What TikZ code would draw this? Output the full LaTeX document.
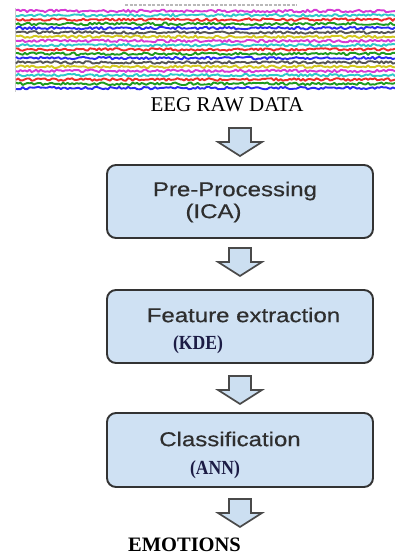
\documentclass[tikz,border=0pt]{standalone}
\usepackage{fontspec}
\setmainfont{Liberation Serif}
\newfontfamily\boxsans[FakeStretch=1.2,FakeBold=0.5]{Liberation Sans}
\newfontfamily\boxserif[FakeStretch=0.88]{Liberation Serif}
\usetikzlibrary{calc}
\definecolor{boxfill}{HTML}{CFE1F3}
\definecolor{boxline}{HTML}{333333}
\definecolor{arrfill}{HTML}{CCDFF1}
\definecolor{arrline}{HTML}{4A4A4A}
\definecolor{txtgray}{HTML}{2E2E2E}
\definecolor{navy}{HTML}{1C1C45}
\definecolor{tr0}{HTML}{D63BD6}
\definecolor{tr1}{HTML}{2FC8C8}
\definecolor{tr2}{HTML}{F02A2A}
\definecolor{tr3}{HTML}{1E9A1E}
\definecolor{tr4}{HTML}{2A2AF0}
\definecolor{tr5}{HTML}{555555}
\definecolor{tr6}{HTML}{D2C81E}
\tikzset{
  stage/.style={draw=boxline, line width=1.9pt, fill=boxfill, rounded corners=9pt,
    minimum width=266pt, inner sep=0pt},
  sanslabel/.style={text=txtgray, font=\boxsans\fontsize{20}{24}\selectfont, inner sep=0pt},
  seriflabel/.style={text=navy, font=\boxserif\bfseries\fontsize{20}{24}\selectfont, inner sep=0pt},
  arrowbox/.style={draw=arrline, line width=1.7pt, fill=arrfill, line join=miter},
  blockarrow/.pic={\draw[arrowbox] (-11,0) -- (11,0) -- (11,14) -- (22,14) -- (0,28)
     -- (-22,14) -- (-11,14) -- cycle;}
}
\begin{document}
\begin{tikzpicture}[x=1pt,y=-1pt]
\useasboundingbox (0,0) rectangle (395,556);
\fill[white] (0,0) rectangle (395,556);
% EEG strip
\pgfmathsetseed{17}
\draw[gray!55, line width=1.1pt, dash pattern=on 3pt off 1.5pt] (125,5) -- (297,5);
\draw[gray!40, line width=0.6pt] (15,8) -- (15,92);
\foreach \i in {0,...,18}{
  \pgfmathsetmacro\yy{11+4.28*\i}
  \pgfmathtruncatemacro\cc{mod(\i,7)}
  \draw[tr\cc, line width=1.9pt, line join=round] plot[domain=16:395, samples=170] (\x,{\yy+1.3*rand});
}
\node[font=\fontsize{21}{24}\selectfont, inner sep=0pt] (eeg) at (227,105) {EEG RAW DATA};
% stages
\node[stage, minimum height=73pt] (pre) at (240,201.5) {};
\node[stage, minimum height=73pt] (feat) at (240,326.5) {};
\node[stage, minimum height=74pt] (cls) at (240,450) {};
\node[sanslabel] (preT) at (235,191) {Pre-Processing};
\node[sanslabel] (preS) at (213.5,213) {(ICA)};
\node[sanslabel] (featT) at (243.5,315) {Feature extraction};
\node[seriflabel] (featS) at (198,345) {(KDE)};
\node[sanslabel] (clsT) at (230,439) {Classification};
\node[seriflabel] (clsS) at (215,470) {(ANN)};
\node[font=\bfseries\fontsize{20.5}{24}\selectfont, inner sep=0pt] (emo) at (184.5,545) {EMOTIONS};
% block arrows
\pic at (240,128) {blockarrow};
\pic at ($(pre.south)+(0,9)$) {blockarrow};
\pic at ($(feat.south)+(0,12)$) {blockarrow};
\pic at ($(cls.south)+(0,11)$) {blockarrow};
\end{tikzpicture}
\end{document}
